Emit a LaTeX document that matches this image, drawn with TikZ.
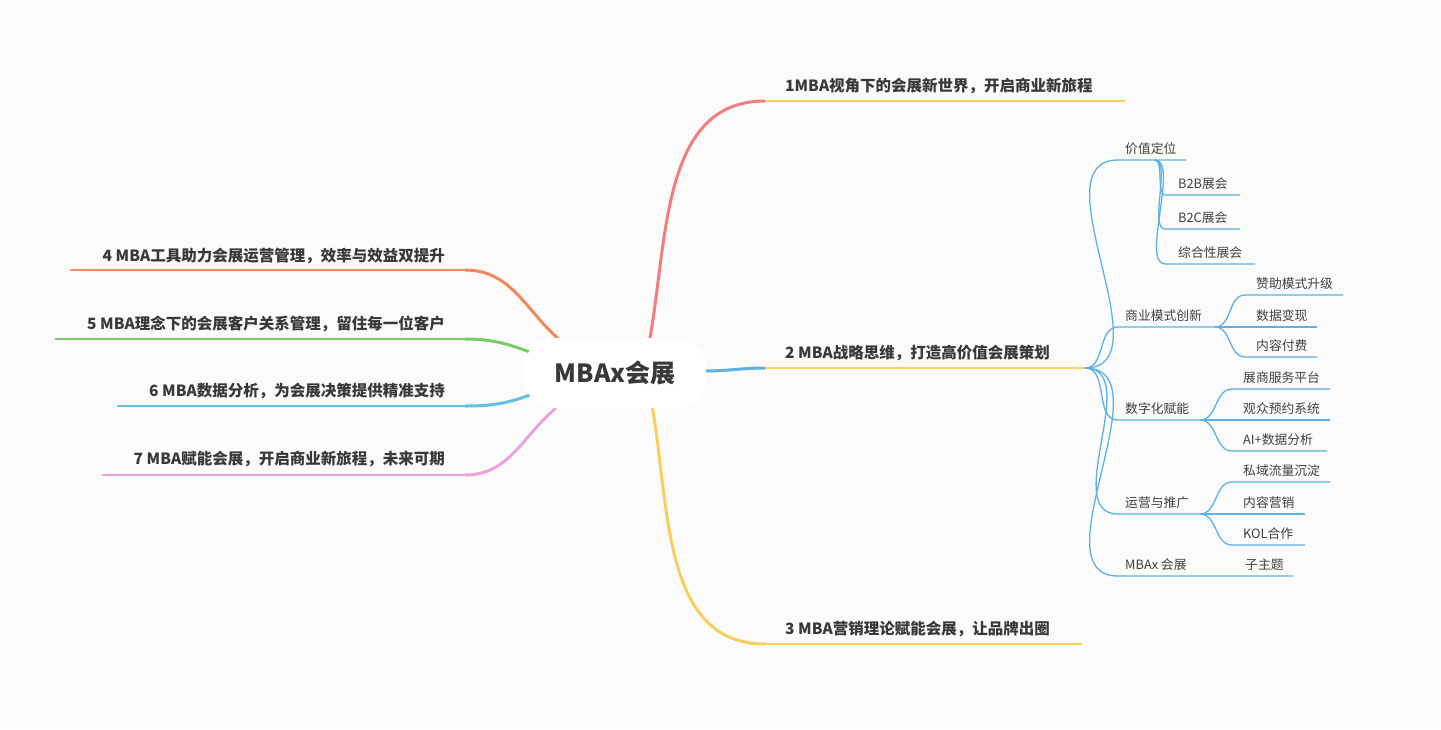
\documentclass[tikz,border=0pt]{standalone}
\usepackage{fontspec}
\setmainfont{Noto Sans CJK SC}
\begin{document}
\begin{tikzpicture}[x=1pt,y=-1pt,
  main/.style={font=\bfseries\fontsize{15.5}{17}\selectfont,text=black!78,inner sep=0pt},
  sub/.style={font=\fontsize{12.8}{14}\selectfont,text=black!75,inner sep=0pt},
  bl/.style={draw=skyc,line width=1.3pt},
  ]
\definecolor{bgc}{HTML}{FBFBFB}
\definecolor{redc}{HTML}{F47C7C}
\definecolor{yelc}{HTML}{F9CF5B}
\definecolor{skyc}{HTML}{5DB1E6}
\definecolor{orc}{HTML}{F08A5D}
\definecolor{grc}{HTML}{7CCB6A}
\definecolor{cyc}{HTML}{63C0E3}
\definecolor{pkc}{HTML}{EBA3DB}
\fill[bgc] (0,0) rectangle (1441,729);
\useasboundingbox (0,0) rectangle (1441,729);
% connectors from center
\coordinate (c1) at (650,338); \coordinate (c2) at (705,371); \coordinate (c3) at (652,405);
\coordinate (c4) at (562,342); \coordinate (c5) at (530,352); \coordinate (c6) at (530,395); \coordinate (c7) at (556,408);
\coordinate (b1) at (765,101); \coordinate (b2) at (765,368); \coordinate (b3) at (765,644);
\coordinate (b4) at (465,270); \coordinate (b5) at (465,339); \coordinate (b6) at (465,406); \coordinate (b7) at (465,475);
\draw[redc,line width=3pt] (c1) to[out=80,in=180] (b1);
\draw[skyc,line width=3pt] (c2) to[out=0,in=180] (b2);
\draw[yelc,line width=3pt] (c3) to[out=-80,in=180] (b3);
\draw[orc,line width=3pt] (c4) to[out=140,in=0] (b4);
\draw[grc,line width=3pt] (c5) to[out=160,in=0] (b5);
\draw[cyc,line width=3pt] (c6) to[out=200,in=0] (b6);
\draw[pkc,line width=3pt] (c7) to[out=220,in=0] (b7);
\node[fill=white,rounded corners=30pt,minimum width=182pt,minimum height=70pt,
  font=\bfseries\fontsize{25}{28}\selectfont,text=black!78] (ctr) at (615,373) {MBAx会展};
% main branch underlines and texts
\draw[yelc,line width=1.5pt] (b1) -- (1125,101);
\node[main,anchor=base west] (t1) at (785,91) {1MBA视角下的会展新世界，开启商业新旅程};
\draw[yelc,line width=1.5pt] (b2) -- (1085,368);
\node[main,anchor=base west] (t2) at (785,358) {2 MBA战略思维，打造高价值会展策划};
\draw[yelc,line width=1.5pt] (b3) -- (1082,644);
\node[main,anchor=base west] (t3) at (785,634) {3 MBA营销理论赋能会展，让品牌出圈};
\draw[orc,line width=1.5pt] (b4) -- (70,270);
\node[main,anchor=base east] (t4) at (445,261) {4 MBA工具助力会展运营管理，效率与效益双提升};
\draw[grc,line width=1.5pt] (b5) -- (55,339);
\node[main,anchor=base east] (t5) at (445,329) {5 MBA理念下的会展客户关系管理，留住每一位客户};
\draw[cyc,line width=1.5pt] (b6) -- (117,406);
\node[main,anchor=base east] (t6) at (445,396) {6 MBA数据分析，为会展决策提供精准支持};
\draw[pkc,line width=1.5pt] (b7) -- (102,475);
\node[main,anchor=base east] (t7) at (445,464) {7 MBA赋能会展，开启商业新旅程，未来可期};
% level 2
\coordinate (p2) at (1085,368);
\foreach \y/\e/\n in {160/1186/s1,327/1220/s2,420/1205/s3,514/1205/s4,576/1293/s5}{
  \coordinate (\n) at (1118,\y);
  \draw[bl] (p2) to[out=0,in=180] (\n) -- (\e,\y);
}
\node[sub,anchor=base west] at (1125,153) {价值定位};
\node[sub,anchor=base west] at (1125,320) {商业模式创新};
\node[sub,anchor=base west] at (1125,413) {数字化赋能};
\node[sub,anchor=base west] at (1125,507) {运营与推广};
\node[sub,anchor=base west] at (1125,569) {MBAx 会展};
\node[sub,anchor=base west] at (1245,569) {子主题};
% children of s1
\coordinate (q1) at (1155,160);
\foreach \y/\e/\t in {195/1240/B2B展会,229/1240/B2C展会,264/1255/综合性展会}{
  \draw[bl] (q1) to[out=0,in=180,looseness=0.6] (1165,\y) -- (\e,\y);
  \node[sub,anchor=base west] at (1178,\y-7) {\t};
}
% children of s2
\coordinate (q2) at (1215,327);
\foreach \y/\e/\t in {295/1343/赞助模式升级,327/1317/数据变现,357/1317/内容付费}{
  \draw[bl] (q2) to[out=0,in=180] (1245,\y) -- (\e,\y);
  \node[sub,anchor=base west] at (1256,\y-7) {\t};
}
\coordinate (q3) at (1200,420);
\foreach \y/\e/\t in {389/1330/展商服务平台,420/1330/观众预约系统,451/1327/AI+数据分析}{
  \draw[bl] (q3) to[out=0,in=180] (1232,\y) -- (\e,\y);
  \node[sub,anchor=base west] at (1243,\y-7) {\t};
}
\coordinate (q4) at (1200,514);
\foreach \y/\e/\t in {482/1330/私域流量沉淀,514/1305/内容营销,545/1305/KOL合作}{
  \draw[bl] (q4) to[out=0,in=180] (1232,\y) -- (\e,\y);
  \node[sub,anchor=base west] at (1243,\y-7) {\t};
}
\end{tikzpicture}
\end{document}
